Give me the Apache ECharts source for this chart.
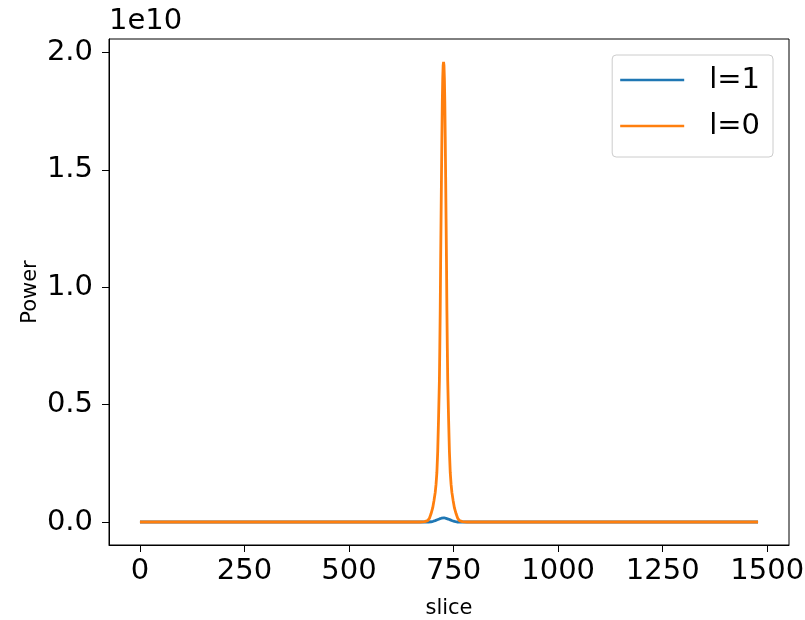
<!DOCTYPE html>
<html>
<head>
<meta charset="utf-8">
<script src="https://cdn.jsdelivr.net/npm/echarts@6/dist/echarts.min.js"></script>
<style>
  html, body { margin: 0; padding: 0; background: #fff; }
  #chart { width: 805px; height: 620px; }
</style>
</head>
<body>
<div id="chart"></div>
<script>
// Power per slice for the two l modes
const sliceL1 = [0, 690, 696, 701, 706, 711, 716, 721, 727, 732, 737, 742, 747, 752, 758, 1478];
const powerL1 = [0, 0, 0.1e8, 0.3e8, 0.6e8, 0.95e8, 1.3e8, 1.6e8, 1.8e8, 1.55e8, 1.25e8, 0.9e8, 0.55e8, 0.25e8, 0, 0];

const sliceL0 = [0, 670, 681, 688, 692, 696, 700, 703, 706, 708, 710, 712, 714, 716, 717, 718, 719, 720, 721, 722, 723, 724, 725,
                 726, 727, 728, 729, 730, 731, 732, 733, 734, 735, 736, 738, 740, 742, 744, 746, 749, 752, 756, 760, 764, 771, 782, 1478];
const powerL0 = [0, 0, 0.0015e10, 0.006e10, 0.015e10, 0.035e10, 0.06e10, 0.09e10, 0.125e10, 0.16e10, 0.21e10, 0.30e10, 0.44e10,
                 0.60e10, 0.74e10, 0.90e10, 1.11e10, 1.29e10, 1.47e10, 1.64e10, 1.79e10, 1.89e10, 1.945e10,
                 1.96e10, 1.945e10, 1.89e10, 1.79e10, 1.64e10, 1.47e10, 1.29e10, 1.11e10, 0.90e10, 0.74e10, 0.60e10,
                 0.44e10, 0.30e10, 0.21e10, 0.16e10, 0.125e10, 0.09e10, 0.06e10, 0.035e10, 0.015e10, 0.006e10, 0.0015e10, 0, 0];

const xTicks = [0, 250, 500, 750, 1000, 1250, 1500];
const yTicks = [0, 0.5e10, 1.0e10, 1.5e10, 2.0e10];

const FONT = 'DejaVu Sans';

function pairs(xs, ys) {
  return xs.map((x, i) => [x, ys[i]]);
}

const chart = echarts.init(document.getElementById('chart'), null, { renderer: 'canvas' });

chart.setOption({
  animation: false,
  backgroundColor: '#fff',
  title: {
    text: '1e10',
    left: 109,
    top: 7,
    padding: 0,
    textStyle: { fontFamily: FONT, fontSize: 29, fontWeight: 'normal', color: '#000' }
  },
  grid: {
    left: 109, right: 16, top: 39, bottom: 75,
    outerBoundsMode: 'none',
    containLabel: false,
    show: true, borderColor: '#000', borderWidth: 1, backgroundColor: 'transparent'
  },
  legend: {
    orient: 'vertical',
    right: 32,
    top: 55,
    padding: [10, 13, 16, 8],
    itemGap: 16,
    itemWidth: 64,
    itemHeight: 2.5,
    icon: 'rect',
    borderColor: '#cccccc',
    borderWidth: 1,
    borderRadius: 4,
    backgroundColor: 'rgba(255,255,255,0.8)',
    textStyle: { fontFamily: FONT, fontSize: 29, color: '#000', lineHeight: 30, padding: [0, 0, 0, 20] },
    data: ['l=1', 'l=0']
  },
  xAxis: {
    type: 'value',
    min: -74,
    max: 1552,
    name: 'slice',
    nameLocation: 'middle',
    nameGap: 53,
    nameMoveOverlap: false,
    nameTextStyle: { fontFamily: FONT, fontSize: 21, color: '#000' },
    axisLine: { show: true, onZero: false, lineStyle: { color: '#000', width: 1 } },
    axisTick: { show: true, length: 7, lineStyle: { color: '#000', width: 1 }, customValues: xTicks },
    axisLabel: {
      fontFamily: FONT, fontSize: 29, color: '#000', margin: 12, customValues: xTicks,
      formatter: v => String(v)
    },
    splitLine: { show: false }
  },
  yAxis: {
    type: 'value',
    min: -0.098e10,
    max: 2.058e10,
    name: 'Power',
    nameLocation: 'middle',
    nameGap: 68,
    nameMoveOverlap: false,
    nameTextStyle: { fontFamily: FONT, fontSize: 21, color: '#000' },
    axisLine: { show: true, onZero: false, lineStyle: { color: '#000', width: 1 } },
    axisTick: { show: true, length: 7, lineStyle: { color: '#000', width: 1 }, customValues: yTicks },
    axisLabel: {
      fontFamily: FONT, fontSize: 29, color: '#000', margin: 16, customValues: yTicks,
      formatter: v => (v / 1e10).toFixed(1)
    },
    splitLine: { show: false }
  },
  series: [
    {
      name: 'l=1',
      type: 'line',
      data: pairs(sliceL1, powerL1),
      symbol: 'none',
      smooth: false,
      color: '#1f77b4',
      lineStyle: { color: '#1f77b4', width: 2.8 }
    },
    {
      name: 'l=0',
      type: 'line',
      data: pairs(sliceL0, powerL0),
      symbol: 'none',
      smooth: false,
      color: '#ff7f0e',
      lineStyle: { color: '#ff7f0e', width: 2.8 }
    }
  ]
});
</script>
</body>
</html>
